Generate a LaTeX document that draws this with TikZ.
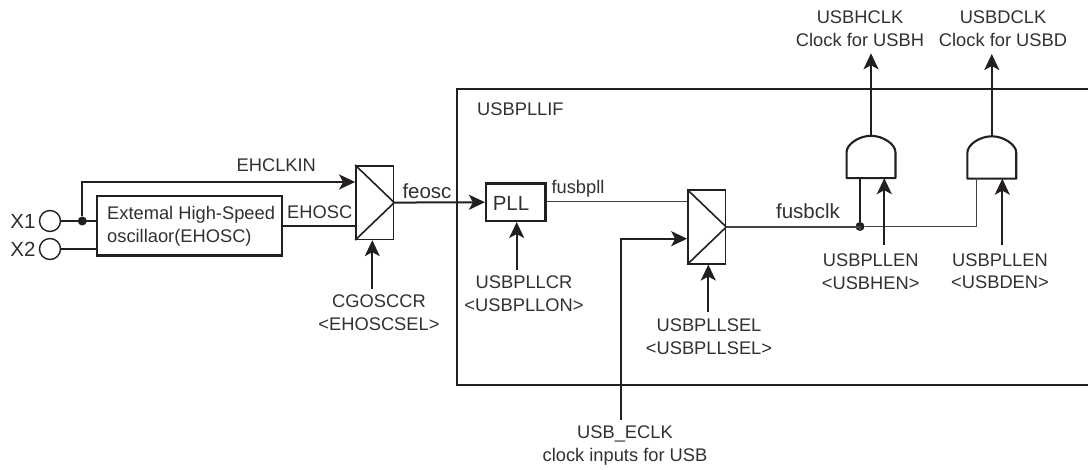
\documentclass[tikz,border=0pt]{standalone}
\usepackage{fontspec}
\setmainfont{Liberation Sans}
\usetikzlibrary{arrows.meta,calc}
\definecolor{inkline}{RGB}{35,31,32}
\definecolor{inktext}{RGB}{50,48,49}
\tikzset{
  % ---- blocks -----------------------------------------------------------
  block/.style={draw=inkline, line width=2.2pt, fill=white, inner sep=0pt},
  muxbox/.style={draw=inkline, line width=1.6pt, fill=white, inner sep=0pt,
                 minimum width=37.5pt, minimum height=73.5pt},
  gatebox/.style={inner sep=0pt, minimum width=48.5pt, minimum height=42pt},
  pin/.style={circle, draw=inkline, line width=1.4pt, fill=white, inner sep=0pt,
              minimum size=21pt},
  dot/.style={circle, fill=inkline, inner sep=0pt, minimum size=9pt},
  % ---- arrows -----------------------------------------------------------
  ar/.style={-{Stealth[length=16pt,width=15pt,inset=4pt]}, draw=inkline, line width=2pt},
  wire/.style={draw=inkline, line width=2pt},
  wirethin/.style={draw=inkline!85, line width=1.5pt},
  % ---- labels -----------------------------------------------------------
  lbl/.style={font=\fontsize{18.3}{22.5}\selectfont, text=inktext, align=center, inner sep=0pt},
  lblb/.style={lbl, font=\fontsize{20.5}{24}\selectfont},
}
\begin{document}
\begin{tikzpicture}[x=1pt,y=-1pt]
\useasboundingbox (0,0) rectangle (1088,470);

\newcommand{\andgate}[1]{\draw[draw=inkline, line width=2.1pt, line join=round]
  (#1.south west) -- (#1.south east) -- ($(#1.south east)+(0,-26)$)
  .. controls ($(#1.south east)+(0,-34)$) and ($(#1.north)+(12,0)$) .. (#1.north)
  .. controls ($(#1.north)+(-12,0)$) and ($(#1.south west)+(0,-34)$) .. ($(#1.south west)+(0,-26)$)
  -- cycle;}
\newcommand{\muxtri}[1]{\draw[draw=inkline, line width=1.6pt]
  (#1.north west) -- (#1.east) -- (#1.south west);}

% ---- USBPLLIF frame, open at the right ------------------------------------
\draw[draw=inkline, line width=2.6pt] (1089,89) -- (457,89) -- (457,385) -- (1089,385);
\node[lbl, anchor=west] (lif) at (477,109.5) {USBPLLIF};

% ---- oscillator input -----------------------------------------------------
\node[lblb] (lx1) at (23,221) {X1};
\node[lblb] (lx2) at (23,249) {X2};
\node[pin] (x1) at (50,221) {};
\node[pin] (x2) at (50,249) {};
\node[block, minimum width=185pt, minimum height=59.5pt] (ehosc) at (189.2,225.8) {};
\node[lbl, anchor=west, align=left] (lehosc) at (107,226.5)
  {Extemal High-Speed\\oscillaor(EHOSC)};
\node[dot] (jx) at (82.3,221) {};

\node[muxbox] (muxa) at (374.7,202.6) {};
\muxtri{muxa}

\draw[wire] (x1) -- (ehosc.west |- x1);
\draw[wire] (x2) -- (ehosc.west |- x2);
\coordinate (ina) at (muxa.west |- 0,182);
\draw[ar] (jx) |- (ina);
\coordinate (inb) at (muxa.west |- 0,225.7);
\draw[wire] (ehosc.east |- inb) -- (inb);
\node[lbl] (lclkin) at (276.3,165.7) {EHCLKIN};
\node[lbl] (lehout) at (319.7,212.3) {EHOSC};

\node[lbl] (lcg) at (379,312.5) {CGOSCCR\\<EHOSCSEL>};
\coordinate (cga) at (372.3,289);
\draw[ar] (cga) -- (cga |- muxa.south);

% ---- PLL ------------------------------------------------------------------
\node[block, minimum width=59.5pt, minimum height=37.5pt] (pll) at (515.8,202.2) {};
\node[lblb] (lpll) at (511,203) {PLL};
\draw[ar] (muxa.east) -- (pll.west);
\node[lblb] (lfeosc) at (427,190.7) {feosc};

\node[lbl] (lpllcr) at (524,293.7) {USBPLLCR\\<USBPLLON>};
\coordinate (cgb) at (516.7,270);
\draw[ar] (cgb) -- (cgb |- pll.south);

% ---- second selector ------------------------------------------------------
\node[muxbox] (muxb) at (706.7,227) {};
\muxtri{muxb}
\coordinate (inc) at (muxb.west |- 0,201.3);
\draw[wirethin] (pll.east |- inc) -- (inc);
\node[lbl] (lfpll) at (578,189) {fusbpll};

\node[lbl] (lsel) at (709,336.5) {USBPLLSEL\\<USBPLLSEL>};
\coordinate (cgc) at (708.3,312.3);
\draw[ar] (cgc) -- (cgc |- muxb.south);

\node[lbl] (lecl) at (625,445.5) {USB\_ECLK\\clock inputs for USB};
\coordinate (ecl) at (621.3,420);
\coordinate (ind) at (muxb.west |- 0,238.7);
\draw[ar] (ecl) |- (ind);

% ---- gates ----------------------------------------------------------------
\node[gatebox] (anda) at (871,157) {};
\node[gatebox] (andb) at (991.8,157.5) {};
\andgate{anda}
\andgate{andb}

\node[dot] (jclk) at (860,226.5) {};
\coordinate (ine) at (976.3,178.5);
\draw[wirethin] (muxb.east) -- (muxb.east -| jclk) -- (jclk) -- (jclk -| ine) -- (ine);
\draw[wire] (jclk) -- (jclk |- anda.south);
\node[lblb] (lfclk) at (808,211) {fusbclk};

\coordinate (ena) at (884.3,245.3);
\coordinate (enb) at (1002.3,245.3);
\draw[ar] (ena) -- (ena |- anda.south);
\draw[ar] (enb) -- (enb |- andb.south);
\node[lbl] (lena) at (870.7,271.7) {USBPLLEN\\<USBHEN>};
\node[lbl] (lenb) at (1000,271) {USBPLLEN\\<USBDEN>};

% ---- outputs --------------------------------------------------------------
\coordinate (outa) at (anda.north |- 0,53.3);
\coordinate (outb) at (andb.north |- 0,54);
\draw[ar] (anda.north) -- (outa);
\draw[ar] (andb.north) -- (outb);
\node[lbl] (lhclk) at (860,28.7) {USBHCLK\\Clock for USBH};
\node[lbl] (ldclk) at (1003,28.7) {USBDCLK\\Clock for USBD};

\end{tikzpicture}
\end{document}
